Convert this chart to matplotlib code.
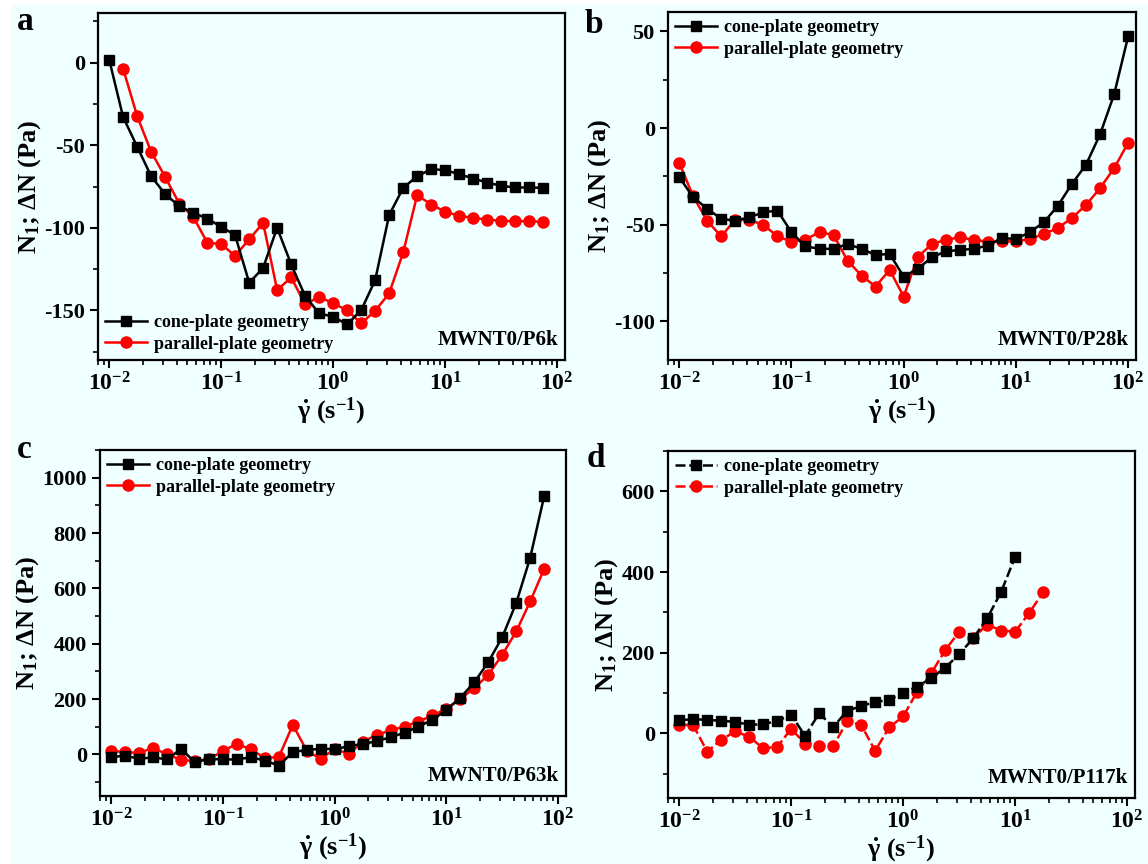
import math
import matplotlib
matplotlib.use("Agg")
import matplotlib.pyplot as plt
from matplotlib.ticker import FixedLocator, LogLocator, NullFormatter, FuncFormatter, AutoMinorLocator, MultipleLocator
from matplotlib.patches import Rectangle

plt.rcParams['font.family'] = ['Liberation Serif', 'DejaVu Serif']
plt.rcParams['font.weight'] = 'bold'
plt.rcParams['mathtext.fontset'] = 'custom'
plt.rcParams['mathtext.rm'] = 'Liberation Serif:bold'
plt.rcParams['mathtext.it'] = 'Liberation Serif:italic:bold'
plt.rcParams['mathtext.bf'] = 'Liberation Serif:bold'
plt.rcParams['axes.unicode_minus'] = False

# shear rates (s^-1), 8 points per decade
rates = [0.01, 0.0133, 0.0178, 0.0237, 0.0316, 0.0422, 0.0562, 0.075,
         0.1, 0.133, 0.178, 0.237, 0.316, 0.422, 0.562, 0.75,
         1.0, 1.33, 1.78, 2.37, 3.16, 4.22, 5.62, 7.5,
         10, 13.3, 17.8, 23.7, 31.6, 42.2, 56.2, 75, 100]

# Panel a: MWNT0/P6k
a_cone = [1.8, -32.9, -51, -68.8, -79.6, -86.9, -90.9, -94.4, -99.4, -104.4, -133.3,
          -124.2, -100, -122.2, -141.3, -151.8, -153.8, -158.5, -149.8, -131.7, -92.3,
          -75.8, -68.8, -64.5, -65.1, -67.5, -70.2, -72.6, -74.6, -75.6, -75.6, -75.8]
a_par = [-3.6, -32.5, -54, -69.2, -85.3, -93.3, -108.9, -109.9, -116.9, -107, -97,
         -137.7, -130, -146.4, -141.7, -145.8, -149.8, -157.9, -150.2, -139.7, -114.9,
         -80.2, -85.9, -90.3, -92.7, -94, -95, -95.8, -96, -96, -96.4]

# Panel b: MWNT0/P28k
b_cone = [-25.4, -35.8, -41.8, -47, -47.9, -46.2, -43.6, -42.7, -53.9, -61.2, -62.5,
          -62.5, -60, -62.5, -65.7, -65.1, -76.9, -72.9, -66.9, -63.8, -63.1, -62.5,
          -60.8, -56.9, -57.4, -53.9, -48.7, -40.1, -28.9, -18.9, -3.3, 17.4, 47.4]
b_par = [-18, -35.3, -48.2, -56, -47.4, -47.5, -50.1, -56, -58.8, -57.7, -53.9,
         -55.3, -68.6, -76.4, -82, -73.4, -87.2, -66.9, -60, -57.9, -56.5, -57.9,
         -58.8, -58.6, -58.6, -57.4, -54.8, -51.7, -46.5, -39.8, -31.1, -20.8, -7.7]

# Panel c: MWNT0/P63k
c_cone = [-10, -4, -16, -10, -18, 20, -28, -16, -18, -18, -10, -22, -40, 8, 17, 20,
          20, 29, 39, 47, 63, 78, 101, 125, 161, 205, 261, 334, 424, 548, 711, 934]
c_par = [14, 8, 6, 24, 0, -19, -24, -16, 12, 39, 18, -12, -10, 107, 14, -16,
         20, 2, 45, 71, 87, 101, 119, 141, 165, 201, 240, 288, 360, 445, 553, 671]

# Panel d: MWNT0/P117k
d_cone = [33, 35, 34, 31, 29, 21, 23, 31, 46, -6, 50, 16, 56, 68, 78, 83,
          101, 116, 137, 163, 196, 236, 285, 351, 438]
d_par = [21, 21, -45, -16, 5, -8, -37, -33, 11, -25, -32, -32, 30, 21, -43, 15,
         42, 103, 149, 206, 252, 236, 270, 255, 252, 298, 350]

panel_letters = ['a', 'b', 'c', 'd']
sample_names = ['MWNT0/P6k', 'MWNT0/P28k', 'MWNT0/P63k', 'MWNT0/P117k']
legend_labels = ['cone-plate geometry', 'parallel-plate geometry']
xtick_vals = [0.01, 0.1, 1, 10, 100]

BG = '#F0FFFF'
W, H = 1148, 864
fig = plt.figure(figsize=(W / 100, H / 100), dpi=100, facecolor=BG)
fig.patches.append(Rectangle((0, 1 - 5 / H), 1, 5 / H, transform=fig.transFigure,
                             facecolor='white', edgecolor='none', zorder=-10))
fig.patches.append(Rectangle((0, 0), 11 / W, 1, transform=fig.transFigure,
                             facecolor='white', edgecolor='none', zorder=-10))

def px_axes(l, t, r, b):
    return fig.add_axes([l / W, 1 - b / H, (r - l) / W, (b - t) / H])

boxes = [(98, 13, 565, 360), (668, 12, 1136, 360),
         (100, 450, 566, 796), (668, 451, 1135, 798)]
ylims = [(-180, 30), (-120, 60), (-150, 1100), (-160, 700)]
ymajor = [50, 50, 200, 200]
letter_pos = [(17, 30), (585, 33), (17, 458), (587, 467)]

datasets = [
    (rates[0:32], a_cone, rates[1:32], a_par),
    (rates[0:33], b_cone, rates[0:33], b_par),
    (rates[0:32], c_cone, rates[0:32], c_par),
    (rates[0:25], d_cone, rates[0:27], d_par),
]

def xfmt(v, pos):
    e = int(round(math.log10(v)))
    return r'$\mathbf{10^{%d}}$' % e

for i in range(4):
    ax = px_axes(*boxes[i])
    ax.set_facecolor(BG)
    xc, yc, xp, yp = datasets[i]
    ls = (0, (4, 1.5)) if i == 3 else '-'
    ax.plot(xc, yc, color='black', marker='s', markersize=7, linewidth=1.8,
            linestyle=ls, label=legend_labels[0], zorder=3)
    ax.plot(xp, yp, color='red', marker='o', markersize=8, linewidth=1.8,
            linestyle=ls, label=legend_labels[1], zorder=2)
    ax.set_xscale('log')
    ax.set_xlim(10 ** -2.1, 10 ** 2.07)
    ax.set_ylim(*ylims[i])
    ax.xaxis.set_major_locator(FixedLocator(xtick_vals))
    ax.xaxis.set_major_formatter(FuncFormatter(xfmt))
    ax.xaxis.set_minor_locator(LogLocator(base=10, subs=range(2, 10), numticks=20))
    ax.xaxis.set_minor_formatter(NullFormatter())
    ax.yaxis.set_major_locator(MultipleLocator(ymajor[i]))
    ax.yaxis.set_minor_locator(AutoMinorLocator(2))
    ax.tick_params(axis='both', which='major', direction='out', length=6, width=1.5,
                   top=False, right=False)
    ax.tick_params(axis='x', which='major', labelsize=17, pad=3)
    ax.tick_params(axis='y', which='major', labelsize=16)
    ax.tick_params(axis='both', which='minor', direction='out', length=3.5, width=1.2,
                   top=False, right=False)
    for lab in ax.get_yticklabels():
        lab.set_fontweight('bold')
    for sp in ax.spines.values():
        sp.set_linewidth(1.6)
    ax.set_ylabel(r'N$_\mathbf{1}$; ΔN (Pa)', fontsize=19, fontweight='bold', labelpad=1)
    ax.set_xlabel(r'$\mathbf{\dot{\gamma}}$ (s$^\mathbf{-1}$)', fontsize=19,
                  fontweight='bold', labelpad=0)
    loc = 'lower left' if i == 0 else 'upper left'
    ax.legend(loc=loc, frameon=False, prop={'weight': 'bold', 'size': 13},
              handlelength=2.3, handletextpad=0.4, labelspacing=0.25,
              borderaxespad=0.2, borderpad=0.2)
    ax.text(0.985, 0.03, sample_names[i], transform=ax.transAxes, ha='right', va='bottom',
            fontsize=15, fontweight='bold')
    lx, ly = letter_pos[i]
    fig.text(lx / W, 1 - ly / H, panel_letters[i], fontsize=24, fontweight='bold',
             ha='left', va='baseline')

fig.savefig('out.png', dpi=100, facecolor=BG)
